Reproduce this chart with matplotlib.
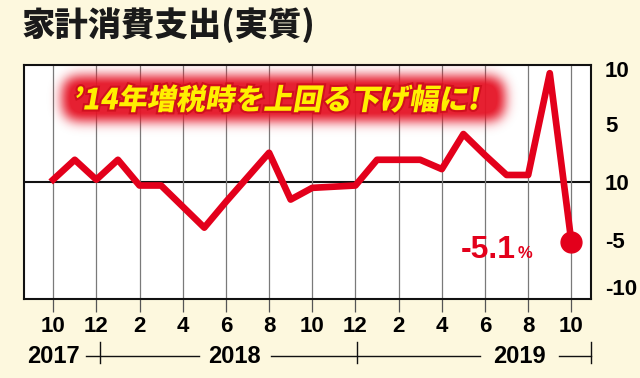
import numpy as np
import matplotlib
matplotlib.use('Agg')
import matplotlib.pyplot as plt
import matplotlib.patheffects as pe
from matplotlib.transforms import blended_transform_factory, Affine2D, IdentityTransform
from matplotlib.textpath import TextPath
from matplotlib.patches import PathPatch
from matplotlib.font_manager import FontProperties

# ---------------- data ----------------
title = '家計消費支出(実質)'
months = list(range(25))  # Oct 2017 .. Oct 2019
values = [0.2, 1.9, 0.2, 1.9, -0.3, -0.3, -2.1, -3.9, -1.7, 0.4, 2.5, -1.5,
          -0.5, -0.4, -0.3, 1.9, 1.9, 1.9, 1.1, 4.1, 2.3, 0.6, 0.6, 9.3, -5.1]
month_ticks = list(range(0, 25, 2))
month_labels = ['10', '12', '2', '4', '6', '8', '10', '12', '2', '4', '6', '8', '10']
ytick_pos = [9.7, 5, 0, -5, -9.0]
ytick_labels = ['10', '5', '10', '-5', '-10']
years = ['2017', '2018', '2019']
year_x = [0, 8.4, 21.6]
annotation = '’14年増税時を上回る下げ幅に!'
last_label = '-5.1'
pct = '%'

# ---------------- style ----------------
bg = '#FDF8DE'
red = '#E3001B'
yellow = '#FFF000'
num_font = ['Liberation Sans', 'DejaVu Sans']
jp_font = ['Noto Sans CJK JP', 'DejaVu Sans']

W, H = 640, 378
fig = plt.figure(figsize=(W / 100, H / 100), dpi=100, facecolor=bg)
ax = fig.add_axes([24 / W, 79 / H, 567 / W, 234 / H])
ax.set_facecolor('white')
ax.set_xlim(-1.35, 24.91)
ax.set_ylim(-10, 10)

for s in ax.spines.values():
    s.set_linewidth(1.5)
    s.set_color('#111111')

ax.set_xticks(month_ticks)
ax.set_xticklabels(month_labels, fontsize=16, fontweight='bold', family=num_font)
ax.tick_params(axis='x', direction='out', length=9, width=0.9, color='#555555', pad=3)
ax.grid(axis='x', color='#7a7a7a', linewidth=0.9)
ax.axhline(0, color='#111111', linewidth=1.5, zorder=1.5)

ax.yaxis.tick_right()
ax.set_yticks(ytick_pos)
ax.set_yticklabels(ytick_labels, fontsize=16, fontweight='bold', family=num_font)
ax.tick_params(axis='y', which='major', length=0, pad=10)
ax.set_yticks([5, -5], minor=True)
ax.tick_params(axis='y', which='minor', direction='in', length=6, width=1.3,
               color='#111111', right=True, left=False)

ax.plot(months, values, color=red, linewidth=4.8, solid_joinstyle='round', zorder=3)
ax.plot(months[-1], values[-1], 'o', color=red, markersize=15, zorder=4)

ax.annotate(last_label, xy=(months[-1], values[-1]), xytext=(-40, -12),
            textcoords='offset points', ha='right', va='baseline', fontsize=23,
            fontweight='bold', color=red, family=num_font)
ax.annotate(pct, xy=(months[-1], values[-1]), xytext=(-38.5, -12),
            textcoords='offset points', ha='left', va='baseline', fontsize=12,
            fontweight='bold', color=red, family=num_font)

# year row
trans = blended_transform_factory(ax.transData, ax.transAxes)
yr_y = -0.245
for name, x in zip(years, year_x):
    ax.text(x, yr_y, name, transform=trans, ha='center', va='center', fontsize=17,
            fontweight='bold', family=num_font, clip_on=False)
for x0, x1 in [(1.52, 6.75), (10.1, 19.77), (23.43, 24.91)]:
    ax.plot([x0, x1], [yr_y, yr_y], transform=trans, color='#111111', lw=1.0, clip_on=False)
for x in [2.15, 14.07, 24.91]:
    ax.plot([x, x], [-0.184, -0.274], transform=trans, color='#111111', lw=1.0, clip_on=False)

# title
fig.text(22 / W, 1 - 25 / H, title, fontsize=24, fontweight='heavy', family=jp_font,
         va='center', ha='left', color='#1a1a1a')

# glow behind the annotation
gx0, gy0, gw, gh = 38, 54, 490, 90
yy, xx = np.mgrid[0:gh, 0:gw]
bx0, bx1, by0, by1, r = 24, 466, 22, 66, 14
cx = np.clip(xx, bx0 + r, bx1 - r)
cy = np.clip(yy, by0 + r, by1 - r)
mask = (((xx - cx) ** 2 + (yy - cy) ** 2) <= r * r).astype(float)
sig = 6.0
k = np.exp(-0.5 * (np.arange(-20, 21) / sig) ** 2)
k /= k.sum()
blur = np.apply_along_axis(lambda m: np.convolve(m, k, mode='same'), 1, mask)
blur = np.apply_along_axis(lambda m: np.convolve(m, k, mode='same'), 0, blur)
rgba = np.zeros((gh, gw, 4))
rgba[..., 0] = 0.90
rgba[..., 1] = 0.08
rgba[..., 2] = 0.15
rgba[..., 3] = np.clip(blur * 1.05, 0, 0.95)
fig.figimage(rgba, xo=gx0, yo=H - gy0 - gh, origin='upper', zorder=3)

# slanted annotation text
fp = FontProperties(family=jp_font, weight='heavy', size=21)
tp = TextPath((0, 0), annotation, prop=fp)
ext = tp.get_extents()
cxp = (ext.x0 + ext.x1) / 2
cyp = (ext.y0 + ext.y1) / 2
tr = (Affine2D().translate(-cxp, -cyp).skew_deg(10, 0).scale(100 / 72)
      .translate(277, H - 98.5))
patch = PathPatch(tp, transform=tr + IdentityTransform(), facecolor=yellow,
                  edgecolor='none', zorder=4,
                  path_effects=[pe.withStroke(linewidth=3, foreground='#D0101E')])
fig.add_artist(patch)

fig.savefig('out.png', dpi=100, facecolor=bg)
